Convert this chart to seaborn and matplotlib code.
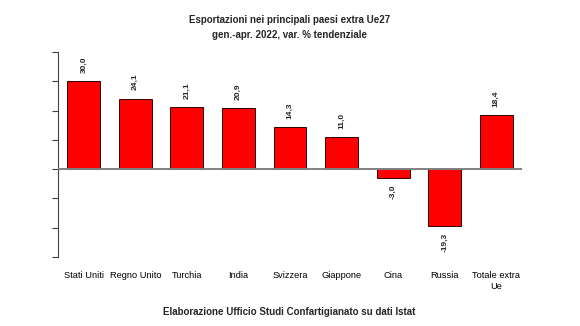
import matplotlib
matplotlib.use("Agg")
import matplotlib.pyplot as plt
import seaborn as sns

categories = ["Stati Uniti", "Regno Unito", "Turchia", "India", "Svizzera",
              "Giappone", "Cina", "Russia", "Totale extra\nUe"]
values = [30.0, 24.1, 21.1, 20.9, 14.3, 11.0, -3.0, -19.3, 18.4]
y_ticks = [-30, -20, -10, 0, 10, 20, 30, 40]
title = "Esportazioni nei principali paesi extra Ue27\ngen.-apr. 2022, var. % tendenziale"
footer = "Elaborazione Ufficio Studi Confartigianato su dati Istat"

sns.set_theme(style="white")
FONT = ["Liberation Sans Narrow", "Liberation Sans", "DejaVu Sans"]
plt.rcParams["font.family"] = FONT

fig = plt.figure(figsize=(5.8, 3.26), dpi=100)
ax = fig.add_axes([0.1, 0.212, 0.8, 0.628])

sns.barplot(x=categories, y=values, color="#ff0000", saturation=1,
            width=0.64, edgecolor="#300000", linewidth=0.7, ax=ax, zorder=2)

ax.set_xlim(-0.5, 8.5)
ax.set_ylim(-30, 40)
ax.axhline(0, color="#808080", linewidth=1.4, zorder=3)

for s in ["top", "right", "bottom"]:
    ax.spines[s].set_visible(False)
ax.spines["left"].set_color("#404040")
ax.spines["left"].set_linewidth(0.8)
ax.set_yticks(y_ticks)
ax.set_yticklabels([])
ax.tick_params(axis="y", left=True, length=4, width=0.8, color="#404040")
ax.tick_params(axis="x", bottom=False, labelsize=6.7, pad=4.5, colors="black")
ax.set_xlabel("")
ax.set_ylabel("")
for lbl in ax.get_xticklabels():
    lbl.set_va("top")

for i, v in enumerate(values):
    txt = f"{v:.1f}".replace(".", ",")
    if v >= 0:
        ax.annotate(txt, (i, v), xytext=(0, 6), textcoords="offset points",
                    rotation=90, ha="center", va="bottom", fontsize=6,
                    fontweight="bold")
    else:
        ax.annotate(txt, (i, v), xytext=(0, -5), textcoords="offset points",
                    rotation=90, ha="center", va="top", fontsize=6,
                    fontweight="bold")

fig.text(0.5, 0.916, title, ha="center", va="center", fontsize=7,
         fontweight="bold", linespacing=1.6)
fig.text(0.498, 0.042, footer, ha="center", va="center", fontsize=7,
         fontweight="bold")

fig.savefig("out.png", dpi=100, facecolor="white")
